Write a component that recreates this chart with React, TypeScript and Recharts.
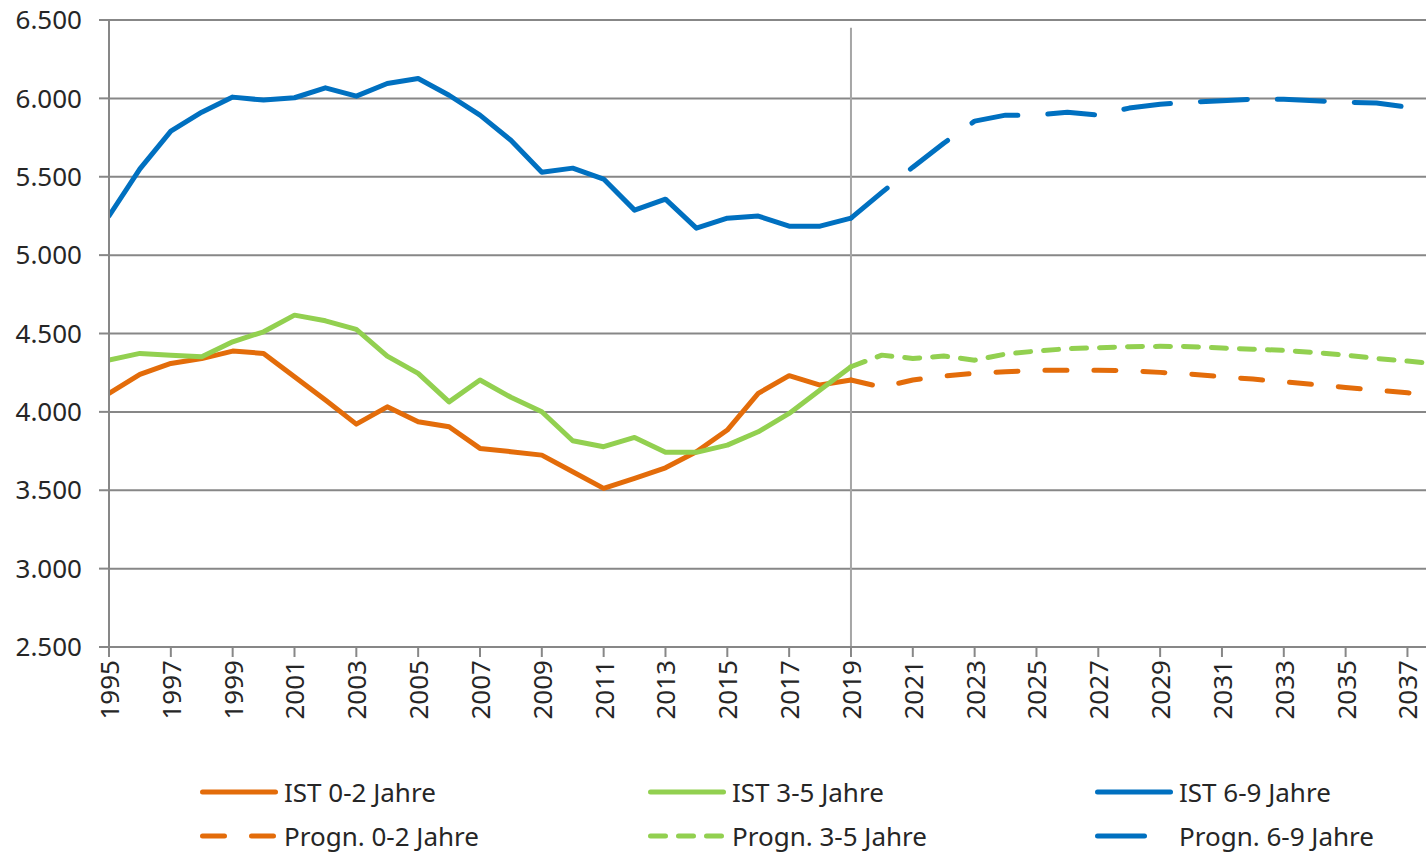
import React from 'react'
import { LineChart, Line, XAxis, YAxis, CartesianGrid, Legend, ReferenceLine } from 'recharts'

const ORANGE = '#e36c0a'
const GREEN = '#92d050'
const BLUE = '#0070c0'
const GRID = '#878787'
const FONT = '"Noto Sans", sans-serif'

// Ist-Werte 1995-2019
const istYears = [1995, 1996, 1997, 1998, 1999, 2000, 2001, 2002, 2003, 2004, 2005, 2006, 2007, 2008, 2009, 2010, 2011, 2012, 2013, 2014, 2015, 2016, 2017, 2018, 2019]
const ist02 = [4118, 4239, 4309, 4340, 4388, 4373, 4224, 4075, 3922, 4032, 3937, 3905, 3767, 3746, 3724, 3618, 3512, 3576, 3643, 3746, 3884, 4118, 4231, 4171, 4203]
const ist35 = [4330, 4373, 4362, 4351, 4447, 4511, 4617, 4581, 4526, 4356, 4246, 4064, 4203, 4093, 4001, 3816, 3778, 3837, 3742, 3742, 3788, 3873, 3990, 4139, 4288]
const ist69 = [5250, 5550, 5791, 5912, 6008, 5989, 6004, 6067, 6014, 6095, 6127, 6020, 5893, 5733, 5529, 5555, 5485, 5287, 5357, 5172, 5236, 5249, 5185, 5185, 5236]

// Prognose 2019-2038
const prognYears = [2019, 2020, 2021, 2022, 2023, 2024, 2025, 2026, 2027, 2028, 2029, 2030, 2031, 2032, 2033, 2034, 2035, 2036, 2037, 2038]
const progn02 = [4203, 4158, 4203, 4228, 4246, 4256, 4265, 4265, 4265, 4263, 4252, 4241, 4224, 4209, 4192, 4175, 4156, 4139, 4122, 4105]
const progn35 = [4288, 4362, 4341, 4356, 4330, 4369, 4388, 4403, 4409, 4416, 4418, 4416, 4407, 4400, 4392, 4379, 4362, 4341, 4324, 4305]
const progn69 = [5236, 5400, 5561, 5714, 5855, 5893, 5893, 5912, 5893, 5938, 5963, 5976, 5985, 5995, 5995, 5985, 5976, 5970, 5944, 5925]

const xTicks = [1995, 1997, 1999, 2001, 2003, 2005, 2007, 2009, 2011, 2013, 2015, 2017, 2019, 2021, 2023, 2025, 2027, 2029, 2031, 2033, 2035, 2037]
const yTicks = [2500, 3000, 3500, 4000, 4500, 5000, 5500, 6000, 6500]

const allYears = [...istYears, ...prognYears.slice(1)]
const data = allYears.map((year) => {
  const i = istYears.indexOf(year)
  const p = prognYears.indexOf(year)
  return {
    year,
    ist02: i >= 0 ? ist02[i] : null,
    ist35: i >= 0 ? ist35[i] : null,
    ist69: i >= 0 ? ist69[i] : null,
    progn02: p >= 0 ? progn02[p] : null,
    progn35: p >= 0 ? progn35[p] : null,
    progn69: p >= 0 ? progn69[p] : null,
  }
})

const series = [
  { key: 'ist02', label: 'IST 0-2 Jahre', color: ORANGE, dash: undefined },
  { key: 'ist35', label: 'IST 3-5 Jahre', color: GREEN, dash: undefined },
  { key: 'ist69', label: 'IST 6-9 Jahre', color: BLUE, dash: undefined },
  { key: 'progn02', label: 'Progn. 0-2 Jahre', color: ORANGE, dash: '22 27' },
  { key: 'progn35', label: 'Progn. 3-5 Jahre', color: GREEN, dash: '15 13' },
  { key: 'progn69', label: 'Progn. 6-9 Jahre', color: BLUE, dash: '47 30' },
]

// 6500 -> "6.500"
const fmt = (v: number) => {
  const s = String(v)
  return s.length > 3 ? s.slice(0, s.length - 3) + '.' + s.slice(-3) : s
}

const XTick = ({ x, y, payload }: any) => (
  <text
    x={x}
    y={y}
    transform={`rotate(-90, ${x}, ${y})`}
    textAnchor="end"
    dominantBaseline="central"
    fontSize={26}
    fontFamily={FONT}
    fill="#262626"
  >
    {payload.value}
  </text>
)

const legendCols = [200, 648, 1095]

const ChartLegend = () => (
  <div style={{ position: 'relative', width: 1426, height: 72, fontFamily: FONT }}>
    {series.map((s, idx) => (
      <div
        key={s.key}
        style={{
          position: 'absolute',
          left: legendCols[idx % 3],
          top: idx < 3 ? 0 : 44,
          height: 26,
          display: 'flex',
          alignItems: 'center',
          fontSize: 26,
          lineHeight: '26px',
          color: '#262626',
          whiteSpace: 'nowrap',
        }}
      >
        <svg width={80} height={10} style={{ marginRight: 4 }}>
          <line
            x1={2.5}
            y1={5}
            x2={75.5}
            y2={5}
            stroke={s.color}
            strokeWidth={5}
            strokeLinecap="round"
            strokeDasharray={s.dash}
          />
        </svg>
        <span>{s.label}</span>
      </div>
    ))}
  </div>
)

export default function App() {
  return (
    <div style={{ position: 'absolute', left: 0, top: 0 }}>
      <LineChart width={1426} height={854} data={data} margin={{ top: 20, right: 0, left: 0, bottom: 0 }}>
        <CartesianGrid vertical={false} stroke={GRID} strokeWidth={2} />
        <XAxis
          dataKey="year"
          type="number"
          domain={[1995, 2037.6]}
          allowDataOverflow
          ticks={xTicks}
          interval={0}
          height={207}
          stroke={GRID}
          strokeWidth={2}
          tickSize={10}
          tickMargin={3}
          tick={<XTick />}
        />
        <YAxis
          domain={[2500, 6500]}
          ticks={yTicks}
          interval={0}
          width={109}
          stroke={GRID}
          strokeWidth={2}
          tickSize={10}
          tickMargin={17}
          tickFormatter={fmt}
          tick={{ fontSize: 26, fontFamily: FONT, fill: '#262626' }}
        />
        <ReferenceLine
          segment={[{ x: 2019, y: 6450 }, { x: 2019, y: 2500 }]}
          stroke="#a6a6a6"
          strokeWidth={2}
        />
        {series.map((s) => (
          <Line
            key={s.key}
            type="linear"
            dataKey={s.key}
            name={s.label}
            stroke={s.color}
            strokeWidth={5}
            strokeDasharray={s.dash}
            strokeLinecap="round"
            strokeLinejoin="round"
            dot={false}
            activeDot={false}
            connectNulls={false}
            isAnimationActive={false}
          />
        ))}
        <Legend
          layout="horizontal"
          verticalAlign="middle"
          align="center"
          wrapperStyle={{ top: 779, left: 0, width: 1426, height: 72 }}
          content={<ChartLegend />}
        />
      </LineChart>
    </div>
  )
}
